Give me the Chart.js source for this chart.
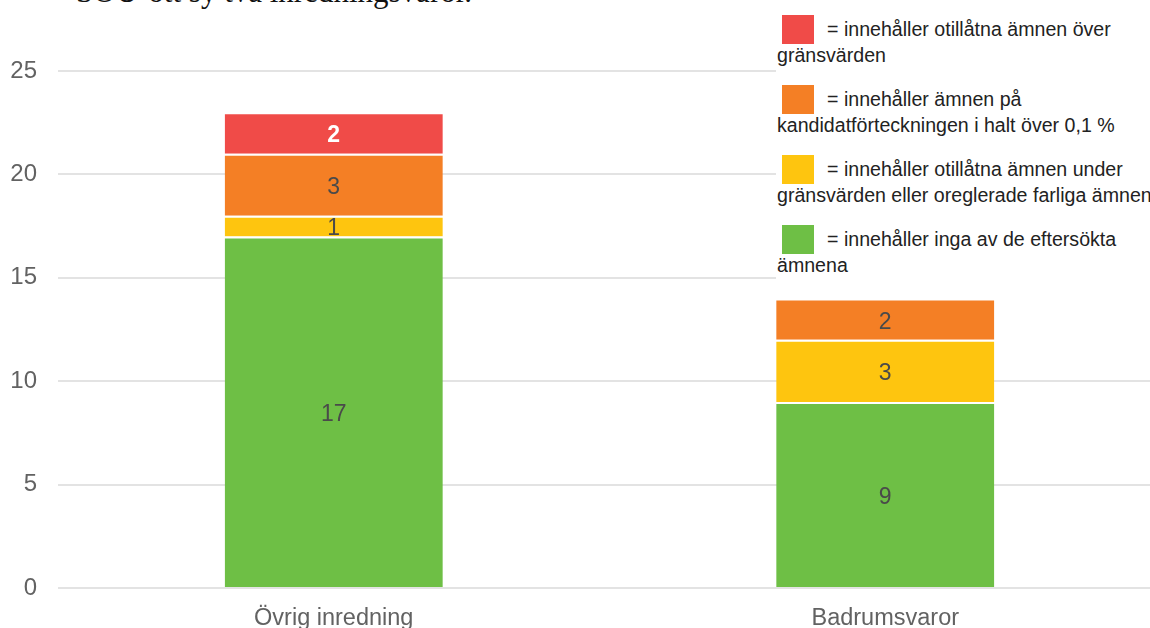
<!DOCTYPE html>
<html lang="sv">
<head>
<meta charset="utf-8">
<title>Inredningsvaror – innehåll av farliga ämnen</title>
<script src="https://cdn.jsdelivr.net/npm/chart.js@4.4.1/dist/chart.umd.min.js"></script>
<style>
  html, body { margin: 0; padding: 0; background: #fff; overflow: hidden; }
  #wrap { position: relative; width: 1150px; height: 628px; overflow: hidden; }
  #chart { position: absolute; left: 0; top: 0; }
  #heading {
    position: absolute; left: 76px; top: -23px; margin: 0;
    font: 31px/30px "Liberation Serif", "Times New Roman", serif; color: #111;
    white-space: nowrap;
  }
  #legend {
    position: absolute; left: 776px; top: 12px; width: 400px; height: 270px;
    background: #fff; font: 19.6px/25.7px "Liberation Sans", Arial, sans-serif; color: #222;
  }
  .item { position: absolute; left: 1px; white-space: nowrap; }
  .item .box { position: absolute; left: 5px; top: -2px; width: 32px; height: 29px; }
  .item .l1 { padding-left: 50px; }
</style>
</head>
<body>
<div id="wrap">
  <p id="heading">SOU-ott sy två inredningsvaror.</p>
  <canvas id="chart" width="1161" height="628"></canvas>
  <div id="legend"></div>
</div>
<script>
// Product groups on the x axis
const categories = ['Övrig inredning', 'Badrumsvaror'];

// Number of products per result class (stacked bottom to top)
const ingaAmnen = [17, 9];          // no substances found
const underGrans = [1, 3];          // banned substances below limits / unregulated hazardous
const kandidat = [3, 2];            // candidate-list substances above 0.1 %
const overGrans = [2, 0];           // banned substances above limits

// Y axis ticks
const yTicks = [0, 5, 10, 15, 20, 25];

// Legend text, one array of lines per class (top to bottom)
const legendRed = ['= innehåller otillåtna ämnen över', 'gränsvärden'];
const legendOrange = ['= innehåller ämnen på', 'kandidatförteckningen i halt över 0,1 %'];
const legendYellow = ['= innehåller otillåtna ämnen under', 'gränsvärden eller oreglerade farliga ämnen'];
const legendGreen = ['= innehåller inga av de eftersökta', 'ämnena'];

const COLORS = { green: '#6ebf45', yellow: '#fec50f', orange: '#f47f25', red: '#f04b48' };

function segment(label, data, color, labelColor, labelBold) {
  return {
    label: label.join(' '),
    data: data,
    backgroundColor: color,
    borderColor: '#ffffff',
    borderWidth: { top: 2, right: 0, bottom: 0, left: 0 },
    borderSkipped: false,
    valueColor: labelColor,
    valueBold: labelBold
  };
}

// Draws each segment's value in the middle of its bar piece
const valueLabels = {
  id: 'valueLabels',
  afterDatasetsDraw(chart) {
    const ctx = chart.ctx;
    chart.data.datasets.forEach((ds, i) => {
      const meta = chart.getDatasetMeta(i);
      meta.data.forEach((el, j) => {
        const v = ds.data[j];
        if (!v) return;
        ctx.save();
        ctx.font = (ds.valueBold ? 'bold ' : '') + '23px "Liberation Sans", Arial, sans-serif';
        ctx.fillStyle = ds.valueColor;
        ctx.textAlign = 'center';
        ctx.textBaseline = 'middle';
        ctx.fillText(String(v), el.x, (el.y + el.base) / 2 + 3);
        ctx.restore();
      });
    });
  }
};

const datasets = [
  segment(legendGreen, ingaAmnen, COLORS.green, '#4a4a4a', false),
  segment(legendYellow, underGrans, COLORS.yellow, '#4a4a4a', false),
  segment(legendOrange, kandidat, COLORS.orange, '#4a4a4a', false),
  segment(legendRed, overGrans, COLORS.red, '#ffffff', true)
];

new Chart(document.getElementById('chart'), {
  type: 'bar',
  data: { labels: categories, datasets: datasets },
  options: {
    responsive: false,
    animation: false,
    layout: { padding: { top: 71, left: 0, right: 0, bottom: 0 } },
    datasets: { bar: { categoryPercentage: 1, barPercentage: 0.3955 } },
    plugins: { legend: { display: false }, tooltip: { enabled: false } },
    scales: {
      x: {
        stacked: true,
        grid: { display: false },
        border: { display: false },
        ticks: {
          color: '#626262', padding: 8,
          font: { family: '"Liberation Sans", Arial, sans-serif', size: 23.5 }
        },
        afterFit(scale) { scale.height = 40; }
      },
      y: {
        stacked: true,
        min: yTicks[0],
        max: yTicks[yTicks.length - 1],
        afterBuildTicks(scale) { scale.ticks = yTicks.map(v => ({ value: v })); },
        grid: { color: '#e3e3e3', lineWidth: 2, drawTicks: false },
        border: { display: false },
        ticks: {
          color: '#626262', padding: 21,
          font: { family: '"Liberation Sans", Arial, sans-serif', size: 24 }
        },
        afterFit(scale) { scale.width = 58; }
      }
    }
  },
  plugins: [valueLabels]
});

// Legend, red at the top down to green
const legendEl = document.getElementById('legend');
[[legendRed, COLORS.red], [legendOrange, COLORS.orange], [legendYellow, COLORS.yellow], [legendGreen, COLORS.green]]
  .forEach(([lines, color], i) => {
    const item = document.createElement('div');
    item.className = 'item';
    item.style.top = (5 + 70 * i) + 'px';
    const box = document.createElement('span');
    box.className = 'box';
    box.style.background = color;
    item.appendChild(box);
    lines.forEach((t, k) => {
      const line = document.createElement('div');
      line.className = k === 0 ? 'l1' : 'l2';
      line.textContent = t;
      item.appendChild(line);
    });
    legendEl.appendChild(item);
  });
</script>
</body>
</html>
